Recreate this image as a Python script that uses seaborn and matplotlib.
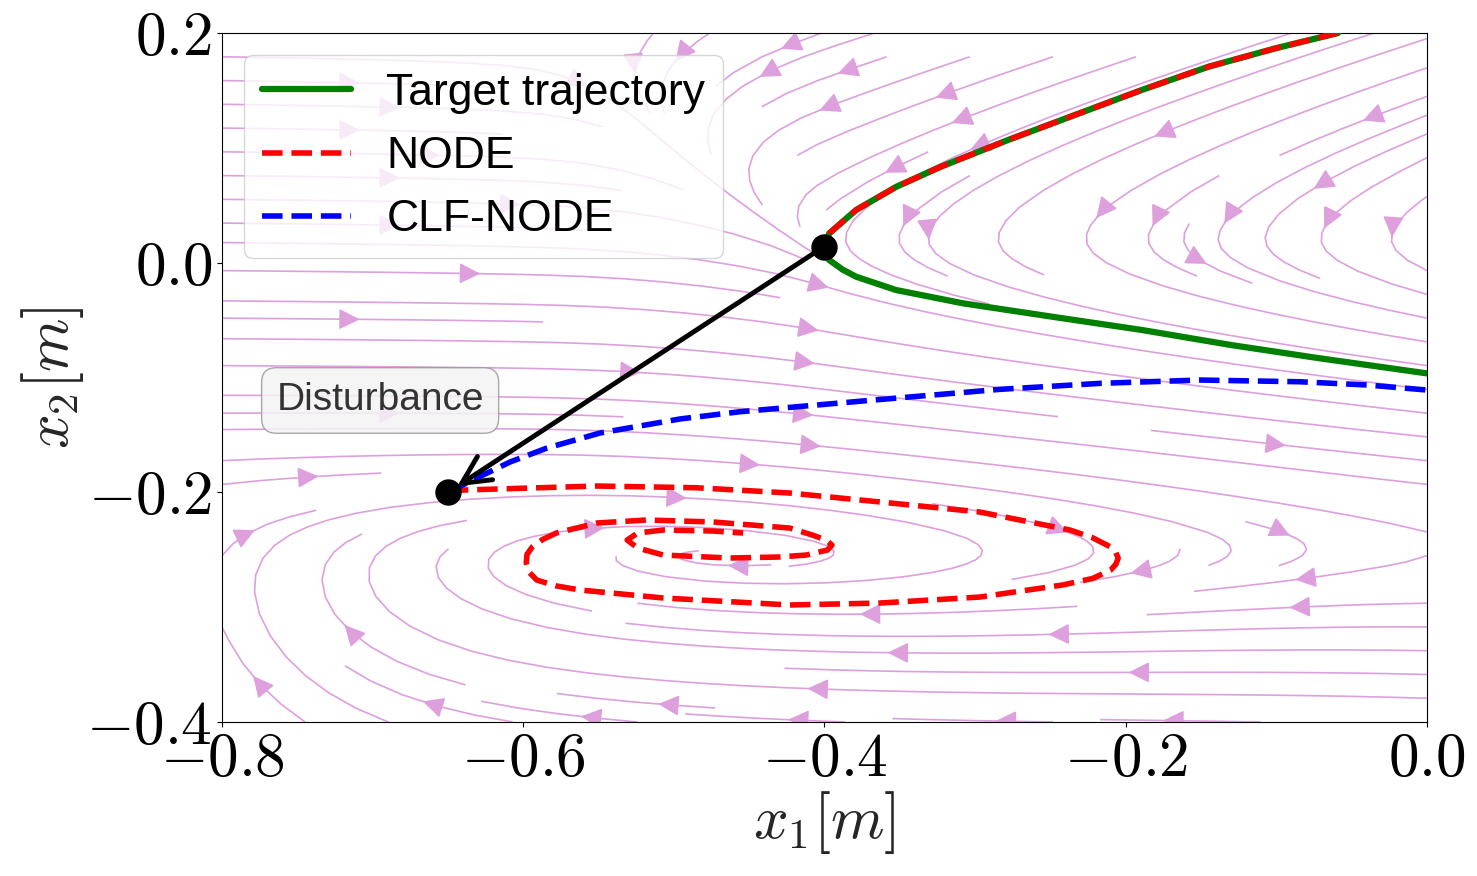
import numpy as np
import seaborn as sns
import matplotlib.pyplot as plt

# ---- trajectories ----
target_x = [-0.059, -0.1005, -0.1449, -0.1893, -0.2338, -0.2782, -0.3227, -0.3523, -0.379, -0.3968, -0.4004,
            -0.3968, -0.388, -0.379, -0.3525, -0.308, -0.2486, -0.1893, -0.1301, -0.071, 0.0]
target_y = [0.2, 0.1867, 0.1707, 0.1504, 0.1286, 0.1068, 0.0836, 0.0661, 0.0459, 0.0256, 0.0139,
            0.0023, -0.0060, -0.0122, -0.0238, -0.0354, -0.0471, -0.0586, -0.0717, -0.0833, -0.0964]

# NODE before the disturbance follows the target (upper branch)
node_pre_x = target_x[:11]
node_pre_y = target_y[:11]

# NODE after the disturbance (spirals into a spurious attractor)
node_post_x = [-0.650, -0.640, -0.551, -0.485, -0.423, -0.363, -0.297, -0.237, -0.222, -0.210, -0.2065,
               -0.205, -0.2065, -0.210, -0.222, -0.242, -0.297, -0.363, -0.423, -0.507, -0.562, -0.578,
               -0.591, -0.5965, -0.598, -0.5975, -0.594, -0.587, -0.578, -0.551, -0.518, -0.474, -0.423,
               -0.408, -0.399, -0.395, -0.398, -0.412, -0.430, -0.463, -0.507, -0.524, -0.531, -0.524,
               -0.507, -0.474, -0.454]
node_post_y = [-0.200, -0.198, -0.1945, -0.196, -0.2006, -0.2084, -0.2171, -0.2328, -0.2395, -0.2476, -0.2525,
               -0.2572, -0.2625, -0.2677, -0.2750, -0.2807, -0.2912, -0.2964, -0.2981, -0.2920, -0.2851, -0.2815,
               -0.2764, -0.2690, -0.2616, -0.2540, -0.2476, -0.2410, -0.2354, -0.2267, -0.2241, -0.2258, -0.2311,
               -0.2372, -0.2415, -0.2459, -0.2502, -0.2546, -0.2563, -0.2572, -0.2546, -0.2485, -0.2415, -0.2354,
               -0.2328, -0.2337, -0.2354]

# CLF-NODE after the disturbance
clf_x = [-0.650, -0.6307, -0.6088, -0.5842, -0.549, -0.4959, -0.4561, -0.3671, -0.2835, -0.2171, -0.1507,
         -0.0843, -0.0398, 0.0]
clf_y = [-0.200, -0.1875, -0.1736, -0.1614, -0.1483, -0.1361, -0.1298, -0.1196, -0.1103, -0.1051, -0.1022,
         -0.1037, -0.1065, -0.1109]

# state before / after the disturbance
nominal_pt = (-0.4004, 0.0139)
disturbed_pt = (-0.650, -0.200)

xticks = [-0.8, -0.6, -0.4, -0.2, 0.0]
xticklabels = ['$-0.8$', '$-0.6$', '$-0.4$', '$-0.2$', '$0.0$']
yticks = [-0.4, -0.2, 0.0, 0.2]
yticklabels = ['$-0.4$', '$-0.2$', '$0.0$', '$0.2$']

# ---- learned vector field (rough model of the background flow) ----
RIDGE_Y = 0.02
SPIRAL_X, SPIRAL_Y = -0.47, -0.245


def sigmoid(z):
    return 1.0 / (1.0 + np.exp(-z))


gx = np.linspace(-0.8, 0.0, 161)
gy = np.linspace(-0.4, 0.2, 121)
X, Y = np.meshgrid(gx, gy)

dy = Y - RIDGE_Y
u_top = np.where(dy > 0, -1.0 * dy, -1.5 * dy) + 1.15 * np.clip(-0.4 - X, 0, None)
v_top = -(0.006 + (0.016 + 0.3 * np.clip(dy, 0, None) + 0.08 * np.clip(-dy, 0, None))
          * sigmoid((X + 0.55) / 0.025))

sx = X - SPIRAL_X
sy = Y - SPIRAL_Y
taper = 0.18 + 0.82 * sigmoid((X + 0.64) / 0.06)
u_sp = 4.0 * sy * taper - 0.05 * sx
v_sp = -0.25 * sx + 0.45 * sx ** 2 - 0.3 * sy

w = sigmoid((-0.19 - Y) / 0.025)
U = (1 - w) * u_top + w * u_sp
V = (1 - w) * v_top + w * v_sp

# ---- plot ----
sns.set_style("ticks", {"axes.edgecolor": "black", "xtick.color": "black", "ytick.color": "black",
                        "text.color": "black"})
plt.rcParams['font.family'] = ['Liberation Sans', 'DejaVu Sans']
plt.rcParams['mathtext.fontset'] = 'cm'

fig, ax = plt.subplots(figsize=(14.77, 8.76), dpi=100)
fig.subplots_adjust(left=0.1503, right=0.9661, bottom=0.1758, top=0.9623)

ax.streamplot(gx, gy, U, V, color='plum', linewidth=1.2, density=1.0, arrowsize=3.2, zorder=1)

line_kw = dict(sort=False, estimator=None, ax=ax)
sns.lineplot(x=target_x, y=target_y, color='green', linewidth=4.5,
             label='Target trajectory', zorder=3, **line_kw)
sns.lineplot(x=node_pre_x, y=node_pre_y, color='red', linewidth=4, linestyle='--',
             label='NODE', zorder=4, **line_kw)
sns.lineplot(x=node_post_x, y=node_post_y, color='red', linewidth=4, linestyle='--',
             zorder=4, **line_kw)
sns.lineplot(x=clf_x, y=clf_y, color='blue', linewidth=4, linestyle='--',
             label='CLF-NODE', zorder=4, **line_kw)

ax.annotate('', xy=disturbed_pt, xytext=nominal_pt,
            arrowprops=dict(arrowstyle='->', color='black', lw=3.5, mutation_scale=50,
                            shrinkA=0, shrinkB=8), zorder=5)
ax.plot(*nominal_pt, 'o', color='black', markersize=18, zorder=6)
ax.plot(*disturbed_pt, 'o', color='black', markersize=18, zorder=6)

ax.text(-0.695, -0.12, 'Disturbance', fontsize=28, color='#333333', ha='center', va='center',
        bbox=dict(boxstyle='round,pad=0.38', facecolor='#f4f4f4', edgecolor='#999999', alpha=0.85),
        zorder=6)

ax.set_xlim(-0.8, 0.0)
ax.set_ylim(-0.4, 0.2)
ax.set_xticks(xticks)
ax.set_xticklabels(xticklabels, fontsize=44)
ax.set_yticks(yticks)
ax.set_yticklabels(yticklabels, fontsize=44)
ax.tick_params(length=3.5, width=0.8)
ax.set_xlabel('$x_1[m]$', fontsize=44, labelpad=0)
ax.set_ylabel('$x_2[m]$', fontsize=44, labelpad=0)

ax.legend(loc='upper left', fontsize=32)

fig.savefig('out.png', dpi=100)
